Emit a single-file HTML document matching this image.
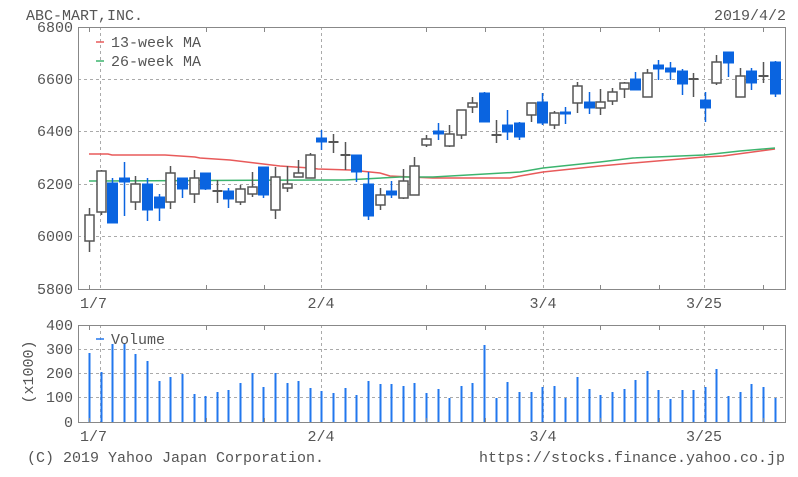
<!DOCTYPE html>
<html><head><meta charset="utf-8"><style>
html,body{margin:0;padding:0;background:#fff;}
svg{display:block;}
text{font-family:"Liberation Mono",monospace;font-size:15px;fill:#555;}
</style></head><body>
<svg id="s" width="798" height="477" viewBox="0 0 798 477" xmlns="http://www.w3.org/2000/svg">
<g stroke="#aaa" stroke-width="1" stroke-dasharray="3,3" fill="none" id="grid">
<line x1="78" y1="79.5" x2="786" y2="79.5"/>
<line x1="78" y1="131.5" x2="786" y2="131.5"/>
<line x1="78" y1="184.5" x2="786" y2="184.5"/>
<line x1="78" y1="236.5" x2="786" y2="236.5"/>
<line x1="100.5" y1="27" x2="100.5" y2="289"/>
<line x1="321.5" y1="27" x2="321.5" y2="289"/>
<line x1="543.5" y1="27" x2="543.5" y2="289"/>
<line x1="704.5" y1="27" x2="704.5" y2="289"/>
<line x1="78" y1="349.5" x2="786" y2="349.5"/>
<line x1="78" y1="373.5" x2="786" y2="373.5"/>
<line x1="78" y1="397.5" x2="786" y2="397.5"/>
<line x1="100.5" y1="325" x2="100.5" y2="422"/>
<line x1="321.5" y1="325" x2="321.5" y2="422"/>
<line x1="543.5" y1="325" x2="543.5" y2="422"/>
<line x1="704.5" y1="325" x2="704.5" y2="422"/>
</g>
<g id="ma" fill="none" stroke-width="1.5">
<polyline stroke="#e85a5a" points="89,154 108,154 112,155 160,155 165,155 195,157 200,158 230,160 255,163 280,166 310,168 318,169 350,170 380,173 390,176 410,177 433,178 510,178 520,176 543,172 600,166 633,163 704,157 723,156 760,151 775,149"/>
<polyline stroke="#3cb46e" points="89,181 321,180 345,180 400,177 433,177 520,172 543,168 600,162 633,158 704,155 740,151 775,148"/>
</g>
<g id="c"></g>
<g id="v" stroke="#2277ee" stroke-width="2"></g>
<g stroke="#888" stroke-width="1" fill="none">
<rect x="78.5" y="27.5" width="707" height="262"/>
<rect x="78.5" y="325.5" width="707" height="97"/>
</g>
<g stroke="#888" stroke-width="1" id="ticks"></g>
<line x1="96" y1="42" x2="104" y2="42" stroke="#e85a5a" stroke-width="1.5"/>
<text x="111" y="47">13-week MA</text>
<line x1="96" y1="61" x2="104" y2="61" stroke="#3cb46e" stroke-width="1.5"/>
<text x="111" y="66">26-week MA</text>
<line x1="96" y1="339" x2="104" y2="339" stroke="#2277ee" stroke-width="1.5"/>
<text x="111" y="344">Volume</text>
<text x="26" y="20">ABC-MART,INC.</text>
<text x="786" y="20" text-anchor="end">2019/4/2</text>
<g text-anchor="end">
<text x="73" y="32">6800</text>
<text x="73" y="84">6600</text>
<text x="73" y="136">6400</text>
<text x="73" y="189">6200</text>
<text x="73" y="241">6000</text>
<text x="73" y="294">5800</text>
<text x="73" y="330">400</text>
<text x="73" y="354">300</text>
<text x="73" y="378">200</text>
<text x="73" y="402">100</text>
<text x="73" y="427">0</text>
</g>
<text x="80" y="308">1/7</text>
<text x="321" y="308" text-anchor="middle">2/4</text>
<text x="543" y="308" text-anchor="middle">3/4</text>
<text x="704" y="308" text-anchor="middle">3/25</text>
<text x="80" y="441">1/7</text>
<text x="321" y="441" text-anchor="middle">2/4</text>
<text x="543" y="441" text-anchor="middle">3/4</text>
<text x="704" y="441" text-anchor="middle">3/25</text>
<text transform="translate(33,372) rotate(-90)" text-anchor="middle">(x1000)</text>
<text x="27" y="462">(C) 2019 Yahoo Japan Corporation.</text>
<text x="785" y="462" text-anchor="end">https://stocks.finance.yahoo.co.jp</text>
</svg>
<script>
var NS="http://www.w3.org/2000/svg";
var C=[
[208,252,215,241,'w'],[170,215,171,212,'w'],[178,223,183,223,'b'],[162,216,178,182,'b'],[176,210,184,202,'w'],
[178,221,184,210,'b'],[194,221,197,208,'b'],[166,209,173,202,'w'],[178,198,178,189,'b'],[170,203,178,194,'w'],
[173,190,173,189,'b'],[180,203,191,191,'d'],[188,208,191,199,'b'],[185,205,189,202,'w'],[172,197,187,194,'w'],
[167,198,167,195,'b'],[167,219,177,210,'w'],[166,192,184,188,'w'],[160,177,173,177,'w'],[153,178,155,178,'w'],
[130,150,138,142,'b'],[134,153,142,142,'d'],[142,170,155,157,'d'],[155,182,155,172,'b'],[172,220,184,216,'b'],
[188,210,195,205,'w'],[181,198,191,195,'b'],[169,199,181,198,'w'],[157,195,166,195,'w'],[135,147,139,145,'w'],
[123,140,131,134,'b'],[125,147,134,146,'w'],[110,139,110,135,'w'],[97,113,103,107,'w'],[92,122,93,122,'b'],
[120,143,135,135,'d'],[110,140,125,132,'b'],[122,140,123,137,'b'],[103,122,103,115,'w'],[93,125,102,123,'b'],
[111,129,113,125,'w'],[107,124,112,114,'b'],[82,113,86,103,'w'],[92,114,102,108,'b'],[89,115,102,108,'w'],
[88,105,92,101,'w'],[82,98,83,89,'w'],[72,90,79,90,'b'],[69,97,73,97,'w'],[60,80,65,69,'b'],
[62,80,68,72,'b'],[69,95,71,84,'b'],[73,97,79,79,'d'],[92,122,100,108,'b'],[55,85,62,83,'w'],
[52,77,52,63,'b'],[68,97,76,97,'w'],[68,90,71,83,'b'],[62,83,76,76,'d'],[61,97,62,94,'b']];
var V=[353,372,344,343,354,361,381,377,374,394,396,392,390,383,373,387,373,383,381,388,391,393,388,395,381,
384,384,386,383,393,389,398,386,383,345,398,382,392,392,387,386,398,377,389,395,392,389,380,371,390,399,390,390,387,369,396,392,384,387,398];
var g=document.getElementById('c'),gv=document.getElementById('v');
function el(p,n,a){var e=document.createElementNS(NS,n);for(var k in a)e.setAttribute(k,a[k]);p.appendChild(e);return e;}
for(var i=0;i<60;i++){
 var x=Math.round(89+i*11.62)+0.5,c=C[i];
 var col=c[4]=='b'?'#0a64e0':'#555';
 el(g,'line',{x1:x,y1:c[0],x2:x,y2:c[1],stroke:col,'stroke-width':1.5});
 var h=Math.max(c[3]-c[2],2);
 if(c[4]=='d'){el(g,'line',{x1:x-5,y1:c[2],x2:x+5,y2:c[2],stroke:col,'stroke-width':2});}
 else if(c[4]=='b'){el(g,'rect',{x:x-5,y:c[2],width:10,height:h,fill:'#0a64e0',stroke:'#0a64e0','stroke-width':1});}
 else{el(g,'rect',{x:x-4.5,y:c[2],width:9,height:h,fill:'#fff',stroke:'#555','stroke-width':1.5});}
 el(gv,'line',{x1:x,y1:V[i],x2:x,y2:422});
}
var tk=[89,206,264,426,485,600,659,763],gt=document.getElementById('ticks');
tk.forEach(function(t){t+=0.5;
 el(gt,'line',{x1:t,y1:28,x2:t,y2:32});el(gt,'line',{x1:t,y1:285,x2:t,y2:289});
 el(gt,'line',{x1:t,y1:326,x2:t,y2:330});el(gt,'line',{x1:t,y1:418,x2:t,y2:422});});
</script>
</body></html>
